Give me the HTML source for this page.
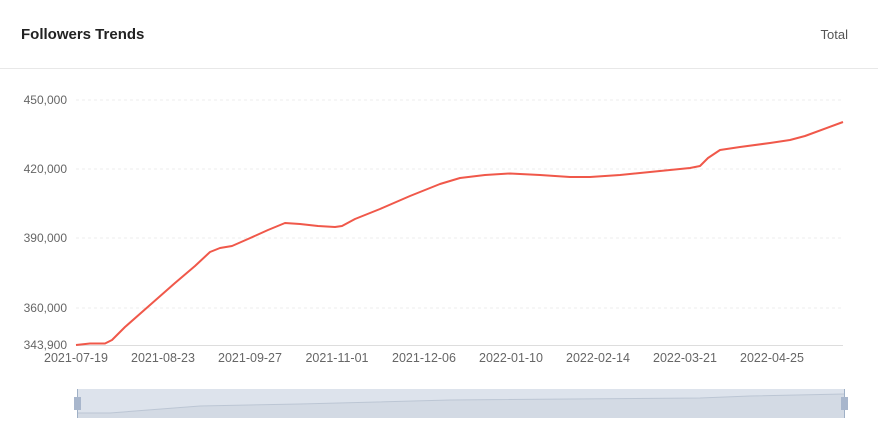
<!DOCTYPE html>
<html><head><style>
body{margin:0;width:878px;height:446px;background:#fff;font-family:"Liberation Sans",sans-serif;overflow:hidden}
</style></head><body>
<svg width="878" height="446" xmlns="http://www.w3.org/2000/svg" style="position:absolute;left:0;top:0">
<text x="21" y="39" font-size="15" font-weight="bold" fill="#222">Followers Trends</text>
<text x="848" y="39" font-size="13" fill="#555" text-anchor="end">Total</text>
<line x1="0" y1="68.5" x2="878" y2="68.5" stroke="#e8e8e8"/>
<g stroke="#eee" stroke-dasharray="3,3">
<line x1="76" y1="100" x2="843" y2="100"/><line x1="76" y1="169" x2="843" y2="169"/>
<line x1="76" y1="238" x2="843" y2="238"/><line x1="76" y1="308" x2="843" y2="308"/>
</g>
<line x1="76" y1="345.5" x2="843" y2="345.5" stroke="#ddd"/>
<g font-size="12" fill="#666" text-anchor="end">
<text x="67" y="104">450,000</text><text x="67" y="173">420,000</text>
<text x="67" y="242">390,000</text><text x="67" y="312">360,000</text><text x="67" y="349">343,900</text>
</g>
<g font-size="12.5" fill="#666" text-anchor="middle">
<text x="76" y="362">2021-07-19</text><text x="163" y="362">2021-08-23</text><text x="250" y="362">2021-09-27</text>
<text x="337" y="362">2021-11-01</text><text x="424" y="362">2021-12-06</text><text x="511" y="362">2022-01-10</text>
<text x="598" y="362">2022-02-14</text><text x="685" y="362">2022-03-21</text><text x="772" y="362">2022-04-25</text>
</g>
<polyline fill="none" stroke="#f0584a" stroke-width="2" stroke-linejoin="round" points="76,345 90,343.5 105,343.5 112,340 125,327 150,305 175,283 195,266 210,252 220,248 232,246 248,239 268,230 285,223 300,224 318,226 335,227 342,226 355,219 380,209 410,196 440,184 460,178 485,175 510,173.5 540,175 570,177 590,177 620,175 660,171 690,168 700,166 708,158 720,150 740,147 770,143 790,140 805,136 843,122"/>
<rect x="77" y="389" width="767" height="29" fill="#d3dae4"/>
<path d="M77,413 L110,413 L200,406 L300,404 L450,400 L700,398 L750,396 L844,394 L844,389 L77,389Z" fill="#dde3ec"/>
<polyline fill="none" stroke="#bcc6d4" points="77,413 110,413 200,406 300,404 450,400 700,398 750,396 844,394"/>
<line x1="77.5" y1="389" x2="77.5" y2="418" stroke="#9fb0c6"/>
<line x1="844.5" y1="389" x2="844.5" y2="418" stroke="#9fb0c6"/>
<rect x="74" y="397" width="7" height="13" fill="#a8b6cc"/>
<rect x="841" y="397" width="7" height="13" fill="#a8b6cc"/>
</svg>
</body></html>
